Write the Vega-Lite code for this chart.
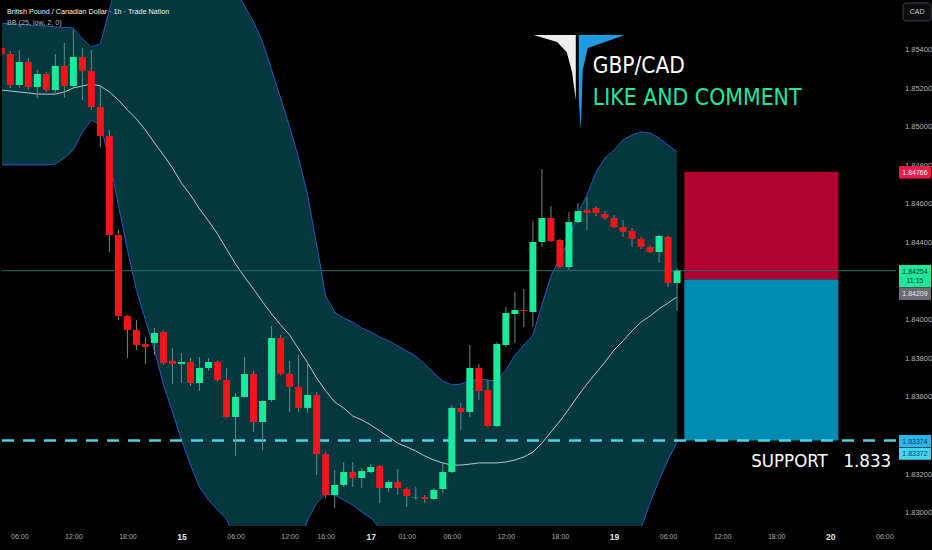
{
  "$schema": "https://vega.github.io/schema/vega-lite/v6.json",
  "width": 932,
  "height": 550,
  "autosize": {"type": "fit", "contains": "padding"},
  "padding": 0,
  "background": "#000000",
  "config": {
    "view": {"stroke": null},
    "axis": {"grid": false, "domain": false, "ticks": false, "labelFont": "Liberation Sans", "labelColor": "#b2b5be", "labelOverlap": false, "labelFlush": false}
  },
  "datasets": {
    "bars": [
      {"i":0,"o":1.85408,"h":1.85429,"l":1.85356,"c":1.85377,"u":1.85537,"m":1.85190,"b":1.84802},
      {"i":1,"o":1.85377,"h":1.85392,"l":1.85201,"c":1.85216,"u":1.85532,"m":1.85185,"b":1.84802},
      {"i":2,"o":1.85216,"h":1.85397,"l":1.85201,"c":1.85335,"u":1.85530,"m":1.85180,"b":1.84802},
      {"i":3,"o":1.85335,"h":1.85356,"l":1.85190,"c":1.85206,"u":1.85527,"m":1.85175,"b":1.84802},
      {"i":4,"o":1.85206,"h":1.85294,"l":1.85149,"c":1.85273,"u":1.85524,"m":1.85169,"b":1.84802},
      {"i":5,"o":1.85273,"h":1.85284,"l":1.85180,"c":1.85190,"u":1.85522,"m":1.85169,"b":1.84802},
      {"i":6,"o":1.85190,"h":1.85377,"l":1.85175,"c":1.85315,"u":1.85517,"m":1.85169,"b":1.84807},
      {"i":7,"o":1.85315,"h":1.85434,"l":1.85149,"c":1.85211,"u":1.85514,"m":1.85180,"b":1.84838},
      {"i":8,"o":1.85211,"h":1.85501,"l":1.85201,"c":1.85361,"u":1.85511,"m":1.85201,"b":1.84879},
      {"i":9,"o":1.85361,"h":1.85408,"l":1.85138,"c":1.85289,"u":1.85455,"m":1.85211,"b":1.84973},
      {"i":10,"o":1.85289,"h":1.85397,"l":1.85087,"c":1.85102,"u":1.85413,"m":1.85221,"b":1.85035},
      {"i":11,"o":1.85102,"h":1.85216,"l":1.84895,"c":1.84952,"u":1.85429,"m":1.85211,"b":1.85009},
      {"i":12,"o":1.84952,"h":1.84983,"l":1.84351,"c":1.84439,"u":1.85605,"m":1.85180,"b":1.84828},
      {"i":13,"o":1.84439,"h":1.84465,"l":1.83999,"c":1.84019,"u":1.85786,"m":1.85138,"b":1.84594},
      {"i":14,"o":1.84019,"h":1.84024,"l":1.83802,"c":1.83947,"u":1.85942,"m":1.85087,"b":1.84361},
      {"i":15,"o":1.83947,"h":1.83999,"l":1.83843,"c":1.83869,"u":1.86071,"m":1.85040,"b":1.84154},
      {"i":16,"o":1.83874,"h":1.83911,"l":1.83771,"c":1.83859,"u":1.86149,"m":1.84983,"b":1.83999},
      {"i":17,"o":1.83880,"h":1.83957,"l":1.83818,"c":1.83931,"u":1.86201,"m":1.84916,"b":1.83843},
      {"i":18,"o":1.83936,"h":1.83942,"l":1.83766,"c":1.83776,"u":1.86227,"m":1.84853,"b":1.83662},
      {"i":19,"o":1.83787,"h":1.83853,"l":1.83667,"c":1.83771,"u":1.86227,"m":1.84786,"b":1.83522},
      {"i":20,"o":1.83771,"h":1.83828,"l":1.83672,"c":1.83781,"u":1.86201,"m":1.84708,"b":1.83377},
      {"i":21,"o":1.83781,"h":1.83802,"l":1.83657,"c":1.83672,"u":1.86149,"m":1.84646,"b":1.83247},
      {"i":22,"o":1.83672,"h":1.83807,"l":1.83631,"c":1.83750,"u":1.86071,"m":1.84574,"b":1.83133},
      {"i":23,"o":1.83750,"h":1.83802,"l":1.83735,"c":1.83781,"u":1.85967,"m":1.84512,"b":1.83066},
      {"i":24,"o":1.83781,"h":1.83787,"l":1.83678,"c":1.83688,"u":1.85864,"m":1.84444,"b":1.83014},
      {"i":25,"o":1.83688,"h":1.83750,"l":1.83491,"c":1.83496,"u":1.85781,"m":1.84366,"b":1.82967},
      {"i":26,"o":1.83496,"h":1.83620,"l":1.83294,"c":1.83600,"u":1.85708,"m":1.84289,"b":1.82859},
      {"i":27,"o":1.83600,"h":1.83807,"l":1.83595,"c":1.83719,"u":1.85626,"m":1.84221,"b":1.82755},
      {"i":28,"o":1.83719,"h":1.83735,"l":1.83418,"c":1.83470,"u":1.85543,"m":1.84159,"b":1.82677},
      {"i":29,"o":1.83470,"h":1.83584,"l":1.83325,"c":1.83579,"u":1.85439,"m":1.84092,"b":1.82641},
      {"i":30,"o":1.83584,"h":1.83968,"l":1.83574,"c":1.83905,"u":1.85294,"m":1.84030,"b":1.82641},
      {"i":31,"o":1.83905,"h":1.83921,"l":1.83714,"c":1.83719,"u":1.85149,"m":1.83973,"b":1.82677},
      {"i":32,"o":1.83719,"h":1.83787,"l":1.83522,"c":1.83652,"u":1.84999,"m":1.83921,"b":1.82745},
      {"i":33,"o":1.83652,"h":1.83818,"l":1.83522,"c":1.83543,"u":1.84838,"m":1.83848,"b":1.82833},
      {"i":34,"o":1.83543,"h":1.83787,"l":1.83517,"c":1.83610,"u":1.84646,"m":1.83776,"b":1.82962},
      {"i":35,"o":1.83610,"h":1.83626,"l":1.83196,"c":1.83304,"u":1.84387,"m":1.83698,"b":1.83050},
      {"i":36,"o":1.83304,"h":1.83314,"l":1.83076,"c":1.83092,"u":1.84123,"m":1.83631,"b":1.83097},
      {"i":37,"o":1.83092,"h":1.83222,"l":1.83025,"c":1.83144,"u":1.84040,"m":1.83574,"b":1.83092},
      {"i":38,"o":1.83144,"h":1.83263,"l":1.83133,"c":1.83211,"u":1.84009,"m":1.83543,"b":1.83066},
      {"i":39,"o":1.83211,"h":1.83263,"l":1.83133,"c":1.83180,"u":1.83988,"m":1.83501,"b":1.83040},
      {"i":40,"o":1.83180,"h":1.83232,"l":1.83128,"c":1.83216,"u":1.83957,"m":1.83481,"b":1.83004},
      {"i":41,"o":1.83211,"h":1.83252,"l":1.83206,"c":1.83237,"u":1.83936,"m":1.83455,"b":1.82973},
      {"i":42,"o":1.83242,"h":1.83247,"l":1.83050,"c":1.83128,"u":1.83910,"m":1.83424,"b":1.82921},
      {"i":43,"o":1.83128,"h":1.83170,"l":1.83107,"c":1.83159,"u":1.83890,"m":1.83392,"b":1.82859},
      {"i":44,"o":1.83159,"h":1.83226,"l":1.83092,"c":1.83128,"u":1.83864,"m":1.83361,"b":1.82797},
      {"i":45,"o":1.83123,"h":1.83133,"l":1.83030,"c":1.83087,"u":1.83838,"m":1.83341,"b":1.82745},
      {"i":46,"o":1.83079,"h":1.83133,"l":1.83066,"c":1.83081,"u":1.83812,"m":1.83320,"b":1.82704},
      {"i":47,"o":1.83081,"h":1.83092,"l":1.83050,"c":1.83071,"u":1.83770,"m":1.83294,"b":1.82662},
      {"i":48,"o":1.83071,"h":1.83128,"l":1.83066,"c":1.83118,"u":1.83724,"m":1.83273,"b":1.82621},
      {"i":49,"o":1.83123,"h":1.83258,"l":1.83102,"c":1.83211,"u":1.83682,"m":1.83258,"b":1.82569},
      {"i":50,"o":1.83211,"h":1.83558,"l":1.83206,"c":1.83543,"u":1.83662,"m":1.83247,"b":1.82507},
      {"i":51,"o":1.83543,"h":1.83568,"l":1.83429,"c":1.83522,"u":1.83667,"m":1.83247,"b":1.82455},
      {"i":52,"o":1.83522,"h":1.83869,"l":1.83496,"c":1.83750,"u":1.83682,"m":1.83252,"b":1.82403},
      {"i":53,"o":1.83750,"h":1.83771,"l":1.83584,"c":1.83631,"u":1.83693,"m":1.83258,"b":1.82351},
      {"i":54,"o":1.83636,"h":1.83688,"l":1.83444,"c":1.83449,"u":1.83688,"m":1.83258,"b":1.82299},
      {"i":55,"o":1.83449,"h":1.83884,"l":1.83444,"c":1.83874,"u":1.83682,"m":1.83258,"b":1.82247},
      {"i":56,"o":1.83869,"h":1.84066,"l":1.83859,"c":1.84035,"u":1.83739,"m":1.83263,"b":1.82206},
      {"i":57,"o":1.84030,"h":1.84144,"l":1.83880,"c":1.84050,"u":1.83817,"m":1.83273,"b":1.82175},
      {"i":58,"o":1.84050,"h":1.84159,"l":1.83962,"c":1.84045,"u":1.83869,"m":1.83289,"b":1.82154},
      {"i":59,"o":1.84040,"h":1.84512,"l":1.83962,"c":1.84403,"u":1.83921,"m":1.83314,"b":1.82144},
      {"i":60,"o":1.84403,"h":1.84781,"l":1.84377,"c":1.84527,"u":1.84077,"m":1.83361,"b":1.82144},
      {"i":61,"o":1.84527,"h":1.84589,"l":1.84403,"c":1.84408,"u":1.84227,"m":1.83418,"b":1.82160},
      {"i":62,"o":1.84413,"h":1.84419,"l":1.84268,"c":1.84273,"u":1.84320,"m":1.83475,"b":1.82196},
      {"i":63,"o":1.84273,"h":1.84558,"l":1.84258,"c":1.84506,"u":1.84413,"m":1.83538,"b":1.82247},
      {"i":64,"o":1.84506,"h":1.84605,"l":1.84501,"c":1.84563,"u":1.84553,"m":1.83605,"b":1.82315},
      {"i":65,"o":1.84568,"h":1.84636,"l":1.84465,"c":1.84553,"u":1.84646,"m":1.83667,"b":1.82393},
      {"i":66,"o":1.84579,"h":1.84589,"l":1.84537,"c":1.84553,"u":1.84765,"m":1.83724,"b":1.82486},
      {"i":67,"o":1.84548,"h":1.84563,"l":1.84517,"c":1.84527,"u":1.84838,"m":1.83781,"b":1.82584},
      {"i":68,"o":1.84527,"h":1.84543,"l":1.84475,"c":1.84480,"u":1.84879,"m":1.83843,"b":1.82677},
      {"i":69,"o":1.84480,"h":1.84517,"l":1.84429,"c":1.84455,"u":1.84931,"m":1.83890,"b":1.82766},
      {"i":70,"o":1.84460,"h":1.84475,"l":1.84377,"c":1.84419,"u":1.84957,"m":1.83942,"b":1.82843},
      {"i":71,"o":1.84419,"h":1.84429,"l":1.84366,"c":1.84377,"u":1.84973,"m":1.83988,"b":1.82921},
      {"i":72,"o":1.84377,"h":1.84387,"l":1.84346,"c":1.84351,"u":1.84967,"m":1.84019,"b":1.83050},
      {"i":73,"o":1.84351,"h":1.84439,"l":1.84294,"c":1.84434,"u":1.84942,"m":1.84056,"b":1.83169},
      {"i":74,"o":1.84429,"h":1.84434,"l":1.84169,"c":1.84190,"u":1.84905,"m":1.84087,"b":1.83273},
      {"i":75,"o":1.84190,"h":1.84268,"l":1.84045,"c":1.84254,"u":1.84869,"m":1.84118,"b":1.83367}
    ],
    "zones": [
      {"zone": "risk", "x0": 75.8, "x1": 92.9, "top": 1.84766, "bottom": 1.84209},
      {"zone": "reward", "x0": 75.8, "x1": 92.9, "top": 1.84209, "bottom": 1.83374}
    ],
    "tags": [
      {"price": 1.84766, "label": "1.84766", "kind": "stop"},
      {"price": 1.84254, "label": "1.84254", "kind": "last"},
      {"price": 1.84209, "label": "1.84209", "kind": "entry"},
      {"price": 1.83374, "label": "1.83374", "kind": "target"},
      {"price": 1.83372, "label": "1.83372", "kind": "support"}
    ]
  },
  "layer": [
    {
      "data": {"name": "bars"},
      "mark": {"type": "area", "clip": true, "color": "#05373e", "opacity": 1},
      "encoding": {
        "x": {"field": "i", "type": "quantitative", "title": null,
          "scale": {"domain": [0.08, 103.289], "nice": false, "zero": false, "padding": 0},
          "axis": {"orient": "bottom", "title": null, "offset": -24, "zindex": 1,
            "values": [2, 8, 14, 20, 26, 32, 36, 41, 45, 50, 56, 62, 68, 74, 80, 86, 92, 98],
            "labelExpr": "['06:00','12:00','18:00','15','06:00','12:00','16:00','17','01:00','06:00','12:00','18:00','19','06:00','12:00','18:00','20','06:00'][indexof([2,8,14,20,26,32,36,41,45,50,56,62,68,74,80,86,92,98], datum.value)]",
            "labelPadding": 6,
            "labelFontSize": {"condition": {"test": "indexof([20,41,68,92], datum.value) >= 0", "value": 8.5}, "value": 7},
            "labelFontWeight": {"condition": {"test": "indexof([20,41,68,92], datum.value) >= 0", "value": "bold"}, "value": "normal"},
            "labelColor": {"condition": {"test": "indexof([20,41,68,92], datum.value) >= 0", "value": "#e6e6e6"}, "value": "#a8abb3"}
          }
        },
        "y": {"field": "u", "type": "quantitative", "title": null,
          "scale": {"domain": [1.8280692, 1.8565647], "nice": false, "zero": false, "padding": 0},
          "axis": {"orient": "right", "title": null, "offset": -36,
            "values": [1.830, 1.832, 1.836, 1.838, 1.840, 1.844, 1.846, 1.848, 1.850, 1.852, 1.854],
            "format": ".5f", "labelPadding": 8.5, "labelFontSize": 7.5, "labelColor": "#b2b5be"}
        },
        "y2": {"field": "b"}
      }
    },
    {
      "data": {"name": "bars"},
      "mark": {"type": "line", "clip": true, "color": "#2c56c0", "strokeWidth": 1},
      "encoding": {
        "x": {"field": "i", "type": "quantitative", "title": null},
        "y": {"field": "u", "type": "quantitative", "title": null}
      }
    },
    {
      "data": {"name": "bars"},
      "mark": {"type": "line", "clip": true, "color": "#2c56c0", "strokeWidth": 1},
      "encoding": {
        "x": {"field": "i", "type": "quantitative", "title": null},
        "y": {"field": "b", "type": "quantitative", "title": null}
      }
    },
    {
      "data": {"name": "bars"},
      "mark": {"type": "line", "clip": true, "color": "#b5c6c6", "strokeWidth": 1},
      "encoding": {
        "x": {"field": "i", "type": "quantitative", "title": null},
        "y": {"field": "m", "type": "quantitative", "title": null}
      }
    },
    {
      "data": {"values": [{"strip": "time axis"}]},
      "mark": {"type": "rect", "color": "#000000", "opacity": 1},
      "encoding": {
        "x": {"datum": 0.08, "type": "quantitative"},
        "x2": {"datum": 103.289},
        "y": {"datum": 1.8280692, "type": "quantitative"},
        "y2": {"datum": 1.8293122}
      }
    },
    {
      "data": {"name": "zones"},
      "mark": {"type": "rect"},
      "encoding": {
        "x": {"field": "x0", "type": "quantitative", "title": null},
        "x2": {"field": "x1"},
        "y": {"field": "top", "type": "quantitative", "title": null},
        "y2": {"field": "bottom"},
        "color": {"field": "zone", "type": "nominal", "scale": {"domain": ["risk", "reward"], "range": ["#b20030", "#008cb2"]}, "legend": null}
      }
    },
    {
      "data": {"values": [{"p": 1.84254}]},
      "mark": {"type": "rule", "color": "#1f6f60", "strokeWidth": 1},
      "encoding": {
        "x": {"datum": 0.08, "type": "quantitative"},
        "x2": {"datum": 99.3},
        "y": {"field": "p", "type": "quantitative", "title": null}
      }
    },
    {
      "data": {"values": [{"p": 1.83374}]},
      "mark": {"type": "rule", "color": "#50d2e2", "strokeWidth": 2.5, "strokeDash": [12, 9]},
      "encoding": {
        "x": {"datum": 0.08, "type": "quantitative"},
        "x2": {"datum": 99.3},
        "y": {"field": "p", "type": "quantitative", "title": null}
      }
    },
    {
      "data": {"name": "bars"},
      "mark": {"type": "rule", "color": "#5e8c84", "strokeWidth": 1, "clip": true},
      "encoding": {
        "x": {"field": "i", "type": "quantitative", "title": null},
        "y": {"field": "l", "type": "quantitative", "title": null},
        "y2": {"field": "h"}
      }
    },
    {
      "data": {"name": "bars"},
      "mark": {"type": "bar", "size": 7, "clip": true},
      "encoding": {
        "x": {"field": "i", "type": "quantitative", "title": null},
        "y": {"field": "o", "type": "quantitative", "title": null},
        "y2": {"field": "c"},
        "color": {"condition": {"test": "datum.c >= datum.o", "value": "#19eb9b"}, "value": "#f51419"}
      }
    },
    {
      "data": {"values": [{"t": "British Pound / Canadian Dollar · 1h · Trade Nation"}]},
      "mark": {"type": "text", "align": "left", "baseline": "middle", "font": "Liberation Sans", "fontSize": 7.2, "color": "#f0f0f0"},
      "encoding": {
        "x": {"datum": 0.63, "type": "quantitative"},
        "y": {"datum": 1.85594, "type": "quantitative"},
        "text": {"field": "t"}
      }
    },
    {
      "data": {"values": [{"t": "BB (25, low, 2, 0)"}]},
      "mark": {"type": "text", "align": "left", "baseline": "middle", "font": "Liberation Sans", "fontSize": 7.2, "color": "#b2b5be"},
      "encoding": {
        "x": {"datum": 0.63, "type": "quantitative"},
        "y": {"datum": 1.85535, "type": "quantitative"},
        "text": {"field": "t"}
      }
    },
    {
      "data": {"values": [{"part": "left"}]},
      "mark": {"type": "point", "shape": "M-0.9375,-0.979L-0.0625,-0.979L-0.0625,0.375L-0.14,-0.2L-0.25,-0.62L-0.45,-0.83Z", "size": 9216, "filled": true, "opacity": 1, "color": "#eeeeee", "strokeWidth": 0},
      "encoding": {
        "x": {"datum": 64.09, "type": "quantitative"},
        "y": {"datum": 1.85232, "type": "quantitative"}
      }
    },
    {
      "data": {"values": [{"part": "right"}]},
      "mark": {"type": "point", "shape": "M0,-0.979L0.958,-0.979L0.1875,-0.708L0.083,-0.25L0.042,1L0,0.375Z", "size": 9216, "filled": true, "opacity": 1, "color": "#1e9be2", "strokeWidth": 0},
      "encoding": {
        "x": {"datum": 64.09, "type": "quantitative"},
        "y": {"datum": 1.85232, "type": "quantitative"}
      }
    },
    {
      "data": {"values": [{"t": "GBP/CAD"}]},
      "mark": {"type": "text", "align": "left", "baseline": "alphabetic", "font": "DejaVu Sans Condensed, Liberation Sans", "fontSize": 22.5, "color": "#ffffff"},
      "encoding": {
        "x": {"datum": 65.64, "type": "quantitative"},
        "y": {"datum": 1.85278, "type": "quantitative"},
        "text": {"field": "t"}
      }
    },
    {
      "data": {"values": [{"t": "LIKE AND COMMENT"}]},
      "mark": {"type": "text", "align": "left", "baseline": "alphabetic", "font": "DejaVu Sans Condensed, Liberation Sans", "fontSize": 22.8, "color": "#1de9a0"},
      "encoding": {
        "x": {"datum": 65.64, "type": "quantitative"},
        "y": {"datum": 1.85113, "type": "quantitative"},
        "text": {"field": "t"}
      }
    },
    {
      "data": {"values": [{"t": "SUPPORT\u00a0\u00a0\u00a01.833"}]},
      "mark": {"type": "text", "align": "right", "baseline": "alphabetic", "font": "DejaVu Sans Condensed, Liberation Sans", "fontSize": 18.5, "color": "#ffffff"},
      "encoding": {
        "x": {"datum": 98.75, "type": "quantitative"},
        "y": {"datum": 1.83237, "type": "quantitative"},
        "text": {"field": "t"}
      }
    },
    {
      "data": {"values": [{"t": "CAD"}]},
      "mark": {"type": "rect", "cornerRadius": 3, "fill": "#0d0d0f", "stroke": "#3d4048", "strokeWidth": 1},
      "encoding": {
        "x": {"datum": 100.08, "type": "quantitative"},
        "x2": {"datum": 103.2},
        "y": {"datum": 1.85641, "type": "quantitative"},
        "y2": {"datum": 1.85548}
      }
    },
    {
      "data": {"values": [{"t": "CAD"}]},
      "mark": {"type": "text", "align": "center", "baseline": "middle", "font": "Liberation Sans", "fontSize": 7, "color": "#c8cad0"},
      "encoding": {
        "x": {"datum": 101.64, "type": "quantitative"},
        "y": {"datum": 1.85594, "type": "quantitative"},
        "text": {"field": "t"}
      }
    },
    {
      "data": {"name": "tags"},
      "mark": {"type": "point", "size": 1024, "filled": true, "opacity": 1, "strokeWidth": 0},
      "encoding": {
        "x": {"datum": 101.4, "type": "quantitative"},
        "y": {"field": "price", "type": "quantitative", "title": null},
        "shape": {"field": "kind", "type": "nominal", "legend": null,
          "scale": {"domain": ["stop", "last", "entry", "target", "support"],
            "range": ["M-1,-0.36H1V0.42H-1Z", "M-1,-0.36H1V1.02H-1Z", "M-1,0.49H1V1.29H-1Z", "M-1,-0.35H1V0.42H-1Z", "M-1,0.42H1V1.17H-1Z"]}},
        "fill": {"field": "kind", "type": "nominal", "legend": null,
          "scale": {"domain": ["stop", "last", "entry", "target", "support"],
            "range": ["#eb1a4b", "#1de99b", "#6b6e75", "#2bb5e8", "#40d6f0"]}}
      }
    },
    {
      "data": {"name": "tags"},
      "transform": [{"filter": "datum.kind === 'stop' || datum.kind === 'last' || datum.kind === 'target'"}],
      "mark": {"type": "text", "align": "center", "baseline": "middle", "font": "Liberation Sans", "fontSize": 7, "dy": 1},
      "encoding": {
        "x": {"datum": 101.4, "type": "quantitative"},
        "y": {"field": "price", "type": "quantitative", "title": null},
        "text": {"field": "label"},
        "color": {"condition": [{"test": "datum.kind === 'stop'", "value": "#ffffff"}, {"test": "datum.kind === 'last'", "value": "#0b3b2b"}], "value": "#0a3f66"}
      }
    },
    {
      "data": {"name": "tags"},
      "transform": [{"filter": "datum.kind === 'entry'"}],
      "mark": {"type": "text", "align": "center", "baseline": "middle", "font": "Liberation Sans", "fontSize": 7, "dy": 14.3, "color": "#e8e8e8"},
      "encoding": {
        "x": {"datum": 101.4, "type": "quantitative"},
        "y": {"field": "price", "type": "quantitative", "title": null},
        "text": {"field": "label"}
      }
    },
    {
      "data": {"name": "tags"},
      "transform": [{"filter": "datum.kind === 'support'"}],
      "mark": {"type": "text", "align": "center", "baseline": "middle", "font": "Liberation Sans", "fontSize": 7, "dy": 13, "color": "#0a3f66"},
      "encoding": {
        "x": {"datum": 101.4, "type": "quantitative"},
        "y": {"field": "price", "type": "quantitative", "title": null},
        "text": {"field": "label"}
      }
    },
    {
      "data": {"values": [{"t": "11:15"}]},
      "mark": {"type": "text", "align": "center", "baseline": "middle", "font": "Liberation Sans", "fontSize": 7, "dy": 10.5, "color": "#0b3b2b"},
      "encoding": {
        "x": {"datum": 101.4, "type": "quantitative"},
        "y": {"datum": 1.84254, "type": "quantitative"},
        "text": {"field": "t"}
      }
    }
  ]
}
